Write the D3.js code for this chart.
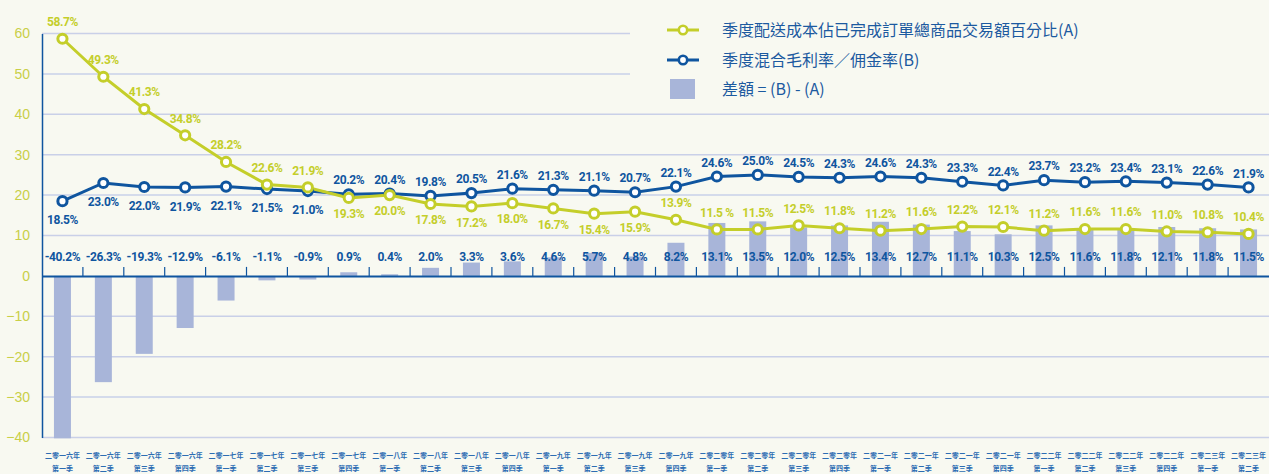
<!DOCTYPE html>
<html><head><meta charset="utf-8">
<script src="https://cdn.jsdelivr.net/npm/d3@7/dist/d3.min.js"></script>
<style>
html,body{margin:0;padding:0;background:#f8f9f1;}
svg{display:block;}
</style></head>
<body>
<svg id="chart" width="1269" height="474"></svg>
<script>
const yearLabels = [
 "二零一六年","二零一六年","二零一六年","二零一六年",
 "二零一七年","二零一七年","二零一七年","二零一七年",
 "二零一八年","二零一八年","二零一八年","二零一八年",
 "二零一九年","二零一九年","二零一九年","二零一九年",
 "二零二零年","二零二零年","二零二零年","二零二零年",
 "二零二一年","二零二一年","二零二一年","二零二一年",
 "二零二二年","二零二二年","二零二二年","二零二二年",
 "二零二三年","二零二三年"];
const quarterLabels = [
 "第一季","第二季","第三季","第四季","第一季","第二季","第三季","第四季",
 "第一季","第二季","第三季","第四季","第一季","第二季","第三季","第四季",
 "第一季","第二季","第三季","第四季","第一季","第二季","第三季","第四季",
 "第一季","第二季","第三季","第四季","第一季","第二季"];
const seriesA = [58.7,49.3,41.3,34.8,28.2,22.6,21.9,19.3,20.0,17.8,17.2,18.0,16.7,15.4,15.9,13.9,11.5,11.5,12.5,11.8,11.2,11.6,12.2,12.1,11.2,11.6,11.6,11.0,10.8,10.4];
const labelsA = ["58.7%","49.3%","41.3%","34.8%","28.2%","22.6%","21.9%","19.3%","20.0%","17.8%","17.2%","18.0%","16.7%","15.4%","15.9%","13.9%","11.5 %","11.5%","12.5%","11.8%","11.2%","11.6%","12.2%","12.1%","11.2%","11.6%","11.6%","11.0%","10.8%","10.4%"];
const seriesB = [18.5,23.0,22.0,21.9,22.1,21.5,21.0,20.2,20.4,19.8,20.5,21.6,21.3,21.1,20.7,22.1,24.6,25.0,24.5,24.3,24.6,24.3,23.3,22.4,23.7,23.2,23.4,23.1,22.6,21.9];
const seriesDiff = [-40.2,-26.3,-19.3,-12.9,-6.1,-1.1,-0.9,0.9,0.4,2.0,3.3,3.6,4.6,5.7,4.8,8.2,13.1,13.5,12.0,12.5,13.4,12.7,11.1,10.3,12.5,11.6,11.8,12.1,11.8,11.5];
const yTicks = [-40,-30,-20,-10,0,10,20,30,40,50,60];
const legendLabels = ["季度配送成本佔已完成訂單總商品交易額百分比(A)","季度混合毛利率／佣金率(B)","差額 = (B) - (A)"];

const colA = "#c4ce2a", colB = "#0f559f", colBar = "#a8b5d9", bg = "#f8f9f1";
const grid = "#c9d0e8", tickCol = "#c9cf48", xLabCol = "#2d6db3";
const labelFont = "'Roboto',sans-serif";

const svg = d3.select("#chart");
const W = 1269, H = 474;
const left = 42, right = 1269;
const idx = d3.range(seriesA.length);
const x = d3.scaleBand().domain(idx).range([left, right]).paddingInner(0).paddingOuter(0);
const y = d3.scaleLinear().domain([-40, 60]).range([437.5, 33.5]);
const cx = i => x(i) + x.bandwidth()/2;

svg.append("rect").attr("width", W).attr("height", H).attr("fill", bg);

// gridlines
svg.append("g").selectAll("line").data(yTicks.filter(t => t !== 0)).join("line")
  .attr("x1", left).attr("x2", right)
  .attr("y1", d => y(d)).attr("y2", d => y(d))
  .attr("stroke", grid).attr("stroke-width", 1.5);

// legend background covers gridlines
svg.append("rect").attr("x", 630).attr("y", 18).attr("width", 640).attr("height", 84).attr("fill", bg);

// y axis
const yAxis = d3.axisLeft(y).tickValues(yTicks).tickSize(0).tickPadding(12).tickFormat(d3.format("d"));
const gy = svg.append("g").attr("transform", `translate(${left},0)`).call(yAxis);
gy.select(".domain").attr("stroke", colB).attr("stroke-width", 1.5);
gy.selectAll("text").attr("fill", tickCol).attr("font-size", 14).attr("font-family", "'Liberation Sans',sans-serif");

// bars
svg.append("g").selectAll("rect").data(idx).join("rect")
  .attr("x", i => cx(i) - 8.5).attr("width", 17)
  .attr("y", i => y(Math.max(0, seriesDiff[i])))
  .attr("height", i => Math.abs(y(seriesDiff[i]) - y(0)))
  .attr("fill", colBar);

// x axis at 0
const xAxis = d3.axisTop(x).tickSize(0).tickFormat("");
const gx = svg.append("g").attr("transform", `translate(0,${y(0)})`).call(xAxis);
gx.select(".domain").attr("stroke", colB).attr("stroke-width", 2);
svg.append("g").selectAll("line").data(idx.slice(1)).join("line")
  .attr("x1", i => x(i)).attr("x2", i => x(i))
  .attr("y1", y(0)).attr("y2", y(0) - 9)
  .attr("stroke", colB).attr("stroke-width", 1.2);

// x labels
const xl = svg.append("g").selectAll("text").data(idx).join("text")
  .attr("text-anchor", "middle").attr("font-size", 7).attr("font-weight", "bold")
  .attr("font-family", "'Noto Sans CJK TC',sans-serif").attr("fill", xLabCol);
xl.append("tspan").attr("x", i => cx(i)).attr("y", 458).text(i => yearLabels[i]);
xl.append("tspan").attr("x", i => cx(i)).attr("y", 471).text(i => quarterLabels[i]);

// lines
const lineGen = arr => d3.line().x((d, i) => cx(i)).y(d => y(d))(arr);
svg.append("path").attr("d", lineGen(seriesB)).attr("fill", "none").attr("stroke", colB).attr("stroke-width", 3);
svg.append("path").attr("d", lineGen(seriesA)).attr("fill", "none").attr("stroke", colA).attr("stroke-width", 3);

function markers(arr, col) {
  svg.append("g").selectAll("circle").data(arr).join("circle")
    .attr("cx", (d, i) => cx(i)).attr("cy", d => y(d)).attr("r", 4.6)
    .attr("fill", "#ffffff").attr("stroke", col).attr("stroke-width", 3);
}
markers(seriesB, colB);
markers(seriesA, colA);

// data labels
const lbl = (sel) => sel.attr("text-anchor", "middle").attr("dy", "0.35em")
  .attr("font-size", 12).attr("font-weight", "bold").attr("letter-spacing", -0.4)
  .attr("font-family", labelFont);

lbl(svg.append("g").selectAll("text").data(seriesA).join("text")
  .attr("x", (d, i) => cx(i))
  .attr("y", (d, i) => y(d) + ((i >= 7 && i <= 14) ? 16 : -17))
  .attr("fill", colA).text((d, i) => labelsA[i]));

lbl(svg.append("g").selectAll("text").data(seriesB).join("text")
  .attr("x", (d, i) => cx(i))
  .attr("y", (d, i) => y(d) + (i <= 6 ? 19 : -14))
  .attr("fill", colB).text(d => d.toFixed(1) + "%"));

lbl(svg.append("g").selectAll("text").data(seriesDiff).join("text")
  .attr("x", (d, i) => cx(i))
  .attr("y", y(0) - 19)
  .attr("fill", colB).text(d => d.toFixed(1) + "%"));

// legend
const lg = svg.append("g");
const ly = [30, 60, 89];
[colA, colB].forEach((c, k) => {
  lg.append("line").attr("x1", 667).attr("x2", 699).attr("y1", ly[k]).attr("y2", ly[k]).attr("stroke", c).attr("stroke-width", 3);
  lg.append("circle").attr("cx", 683).attr("cy", ly[k]).attr("r", 4.2).attr("fill", "#ffffff").attr("stroke", c).attr("stroke-width", 2.6);
});
lg.append("rect").attr("x", 670).attr("y", 79).attr("width", 25).attr("height", 20).attr("fill", colBar);
lg.selectAll("text").data(legendLabels).join("text")
  .attr("x", 722).attr("y", (d, k) => ly[k]).attr("dy", "0.35em")
  .attr("font-size", 16).attr("font-family", "'Noto Sans CJK TC',sans-serif")
  .attr("fill", "#1c5aa0").text(d => d);
</script>
</body></html>
